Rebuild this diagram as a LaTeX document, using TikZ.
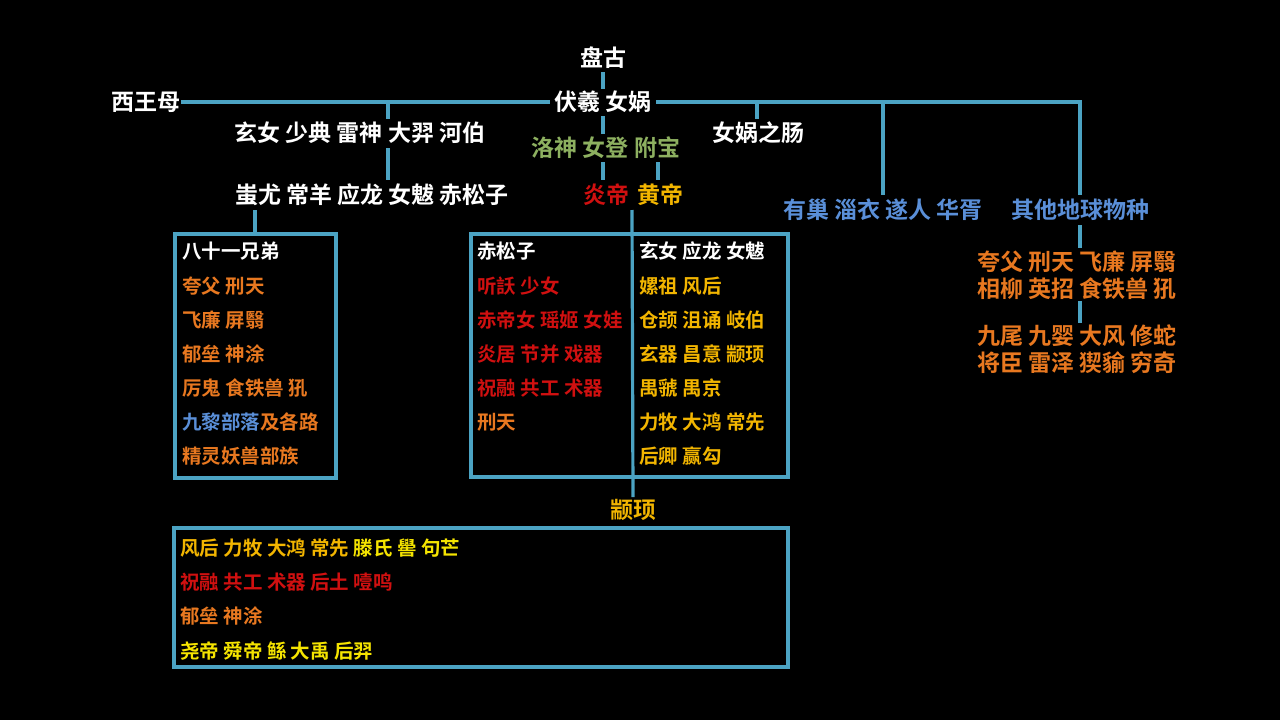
\documentclass[tikz,border=0pt]{standalone}
\usepackage{fontspec}
\setmainfont{Noto Sans CJK SC Bold}
\begin{document}
\begin{tikzpicture}[x=1pt,y=-1pt,
  ln/.style={draw=cyanL,line width=3.2pt},
  bx/.style={draw=cyanL,line width=3.2pt},
  big/.style={font=\fontsize{23}{25}\selectfont,inner sep=0pt},
  sm/.style={font=\fontsize{19.5}{21}\selectfont,inner sep=0pt,anchor=west}]
\definecolor{cyanL}{HTML}{4BA3C3}
\definecolor{grn}{HTML}{8DB060}
\definecolor{rd}{HTML}{D01010}
\definecolor{gd}{HTML}{F2B500}
\definecolor{bl}{HTML}{5A8FD8}
\definecolor{org}{HTML}{E87820}
\definecolor{yl}{HTML}{F5E400}
\fill[black] (0,0) rectangle (1280,720);
\useasboundingbox (0,0) rectangle (1280,720);
% top
\node[big,white] (pg) at (603,58) {盘古};
\node[big,white] (fx) at (603,102) {伏羲 女娲};
\node[big,white,anchor=east] (xw) at (181,102) {西王母};
\node[big,white] (r1) at (360,133) {玄女 少典 雷神 大羿 河伯};
\node[big,white] (r2) at (372,195) {蚩尤 常羊 应龙 女魃 赤松子};
\node[big,white] (nc) at (758,133) {女娲之肠};
\node[big,grn] (ls) at (606,148) {洛神 女登 附宝};
\node[big,rd] (yd) at (606,195) {炎帝};
\node[big,gd] (hd) at (660,195) {黄帝};
\node[big,bl] (yc) at (883,210) {有巢 淄衣 遂人 华胥};
\node[big,bl] (qt) at (1080,210) {其他地球物种};
\coordinate (j1) at (388,102);
\coordinate (j2) at (757,102);
\coordinate (j3) at (883,102);
\coordinate (j4) at (1080,102);
\draw[ln] (603,72) -- (603,89);
\draw[ln] (xw.east) -- ([xshift=-4pt]fx.west);
\draw[ln] ([xshift=4pt]fx.east) -- (j4) -- (1080,195);
\draw[ln] (j3) -- (883,195);
\draw[ln] (j2) -- (757,119);
\draw[ln] (j1) -- (388,119);
\draw[ln] (388,148) -- (388,180);
\draw[ln] (603,116) -- (603,134);
\draw[ln] (603,162) -- (603,180);
\draw[ln] (658,162) -- (658,180);
% right block
\node[big,org,anchor=west] (o1) at (977,262) {夸父 刑天 飞廉 屏翳};
\node[big,org,anchor=west] (o2) at (977,289) {相柳 英招 食铁兽 犼};
\node[big,org,anchor=west] (o3) at (977,336) {九尾 九婴 大风 修蛇};
\node[big,org,anchor=west] (o4) at (977,363) {将臣 雷泽 猰貐 穷奇};
\draw[ln] (1080,225) -- (1080,248);
\draw[ln] (1080,301) -- (1080,323);
% box1
\draw[bx] (175,234) rectangle (336,478);
\draw[ln] (255,210) -- (255,234);
\node[sm,white] at (182,251) {八十一兄弟};
\node[sm,org] at (182,286) {夸父 刑天};
\node[sm,org] at (182,320) {飞廉 屏翳};
\node[sm,org] at (182,354) {郁垒 神涂};
\node[sm,org] at (182,388) {厉鬼 食铁兽 犼};
\node[sm,org] at (182,422) {\textcolor{bl}{九黎部落}及各路};
\node[sm,org] at (182,456) {精灵妖兽部族};
% box2
\draw[bx] (471,234) rectangle (788,477);
\node[big,gd] (zx) at (633,510) {颛顼};
\draw[ln] (632,210) -- ([yshift=2pt]zx.north);
\node[sm,white] at (477,251) {赤松子};
\node[sm,rd] at (477,286) {听訞 少女};
\node[sm,rd] at (477,320) {赤帝女 瑶姬 女娃};
\node[sm,rd] at (477,354) {炎居 节并 戏器};
\node[sm,rd] at (477,388) {祝融 共工 术器};
\node[sm,org] at (477,422) {刑天};
\node[sm,white] at (639,251) {玄女 应龙 女魃};
\node[sm,gd] at (639,286) {嫘祖 风后};
\node[sm,gd] at (639,320) {仓颉 沮诵 岐伯};
\node[sm,gd] at (639,354) {玄器 昌意 颛顼};
\node[sm,gd] at (639,388) {禺虢 禺京};
\node[sm,gd] at (639,422) {力牧 大鸿 常先};
\node[sm,gd] at (639,456) {后卿 赢勾};
% box3
\draw[bx] (174,528) rectangle (788,667);
\node[sm,gd] at (180,548) {风后 力牧 大鸿 常先 \textcolor{yl}{滕氏 嚳 句芒}};
\node[sm,rd] at (180,582) {祝融 共工 术器 后土 噎鸣};
\node[sm,org] at (180,616) {郁垒 神涂};
\node[sm,yl] at (180,651) {尧帝 舜帝 鲧 大禹 后羿};
\end{tikzpicture}
\end{document}
